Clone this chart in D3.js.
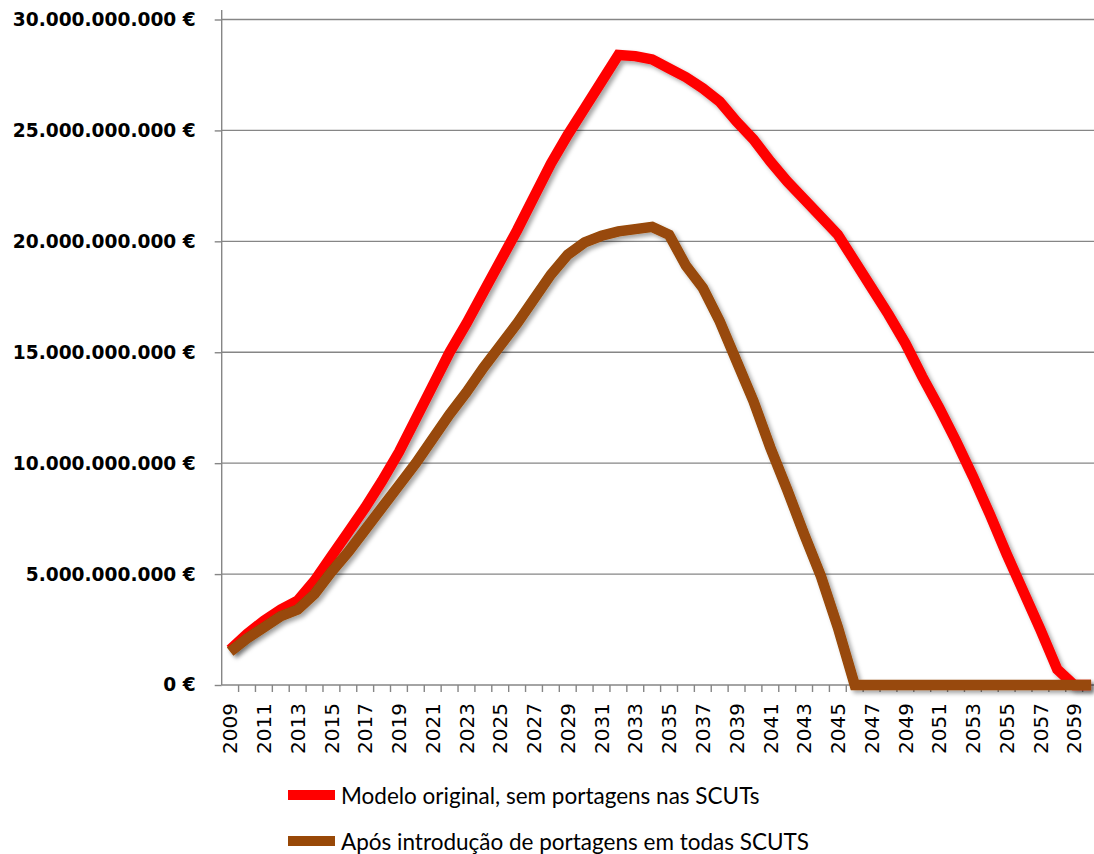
<!DOCTYPE html>
<html><head><meta charset="utf-8">
<script src="https://cdn.jsdelivr.net/npm/d3@7"></script>
<style>body{margin:0;background:#fff}svg{display:block}</style>
</head><body>
<svg id="chart" width="1094" height="854"></svg>
<script>
// Categories (years)
const years = [2009,2010,2011,2012,2013,2014,2015,2016,2017,2018,2019,2020,2021,2022,2023,2024,2025,2026,2027,2028,2029,2030,2031,2032,2033,2034,2035,2036,2037,2038,2039,2040,2041,2042,2043,2044,2045,2046,2047,2048,2049,2050,2051,2052,2053,2054,2055,2056,2057,2058,2059,2060];
// Tick labels shown on the x axis
const xTickLabels = [2009,2011,2013,2015,2017,2019,2021,2023,2025,2027,2029,2031,2033,2035,2037,2039,2041,2043,2045,2047,2049,2051,2053,2055,2057,2059];
// Y tick values (billions of euros)
const yTickValues = [0,5,10,15,20,25,30];
const seriesNames = ["Modelo original, sem portagens nas SCUTs","Após introdução de portagens em todas SCUTS"];
// Values in billions of euros
const valuesOriginal = [1.6,2.3,2.9,3.4,3.8,4.7,5.8,6.9,8.0,9.2,10.5,12.0,13.5,15.0,16.3,17.7,19.1,20.5,22.0,23.5,24.8,26.0,27.2,28.4,28.35,28.2,27.8,27.4,26.9,26.3,25.4,24.6,23.6,22.7,21.9,21.1,20.3,19.1,17.9,16.7,15.4,13.9,12.5,11.0,9.4,7.7,5.9,4.2,2.5,0.7,0,0];
const valuesPortagens = [1.5,2.1,2.6,3.1,3.4,4.1,5.1,6.0,7.0,8.0,9.0,10.0,11.1,12.2,13.2,14.3,15.3,16.3,17.4,18.5,19.4,19.95,20.25,20.45,20.55,20.65,20.3,18.9,17.9,16.4,14.6,12.8,10.7,8.8,6.8,4.9,2.6,0,0,0,0,0,0,0,0,0,0,0,0,0,0,0];
const colors = ["#ff0000","#984807"];

const svg = d3.select("#chart");
const W = 1094, H = 854;
const mLeft = 221.7, mRight = 1099.5, mTop = 19.5, mBottom = 685;

const x = d3.scaleBand().domain(years).range([mLeft, mRight]).padding(0);
const xc = d => x(d) + x.bandwidth()/2;
const y = d3.scaleLinear().domain([0,30]).range([mBottom, mTop]);

const loc = d3.formatLocale({decimal:",", thousands:".", grouping:[3], currency:["",""]});
const fmt = loc.format(",.0f");

svg.append("rect").attr("width",W).attr("height",H).attr("fill","#fff");

const defs = svg.append("defs");
const f = defs.append("filter").attr("id","sh").attr("x","-5%").attr("y","-5%").attr("width","115%").attr("height","115%");
f.append("feDropShadow").attr("dx",3).attr("dy",3).attr("stdDeviation",2).attr("flood-color","#000").attr("flood-opacity",0.35);

const gridCol = "#868686";
// Gridlines
svg.append("g").selectAll("line").data(yTickValues.filter(v=>v>0)).join("line")
  .attr("x1",mLeft).attr("x2",W+10).attr("y1",d=>y(d)).attr("y2",d=>y(d))
  .attr("stroke",gridCol).attr("stroke-width",1.4);

// Y axis
const yAxis = d3.axisLeft(y).tickValues(yTickValues).tickSize(7).tickFormat(d => fmt(d*1e9) + " €");
const gy = svg.append("g").attr("transform",`translate(${mLeft},0)`).call(yAxis);
gy.select(".domain").remove();
gy.selectAll(".tick line").attr("stroke",gridCol).attr("stroke-width",1.4);
gy.selectAll(".tick text").attr("x",-26).attr("fill","#000")
  .style("font-family","'DejaVu Sans'").style("font-weight","bold").style("font-size","18.6px");
svg.append("line").attr("x1",mLeft).attr("x2",mLeft).attr("y1",10).attr("y2",mBottom)
  .attr("stroke",gridCol).attr("stroke-width",1.4);

// X axis
const xAxis = d3.axisBottom(x).tickSize(0).tickFormat(d => xTickLabels.includes(d) ? d : "");
const gx = svg.append("g").attr("transform",`translate(0,${mBottom})`).call(xAxis);
gx.select(".domain").remove();
gx.selectAll(".tick text")
  .attr("transform","rotate(-90)").attr("text-anchor","end").attr("x",-18).attr("y",0).attr("dy","0.36em")
  .attr("fill","#000").style("font-family","'DejaVu Sans'").style("font-size","20px");
// boundary ticks
svg.append("g").selectAll("line").data(years).join("line")
  .attr("x1",d=>x(d)+x.bandwidth()).attr("x2",d=>x(d)+x.bandwidth())
  .attr("y1",mBottom).attr("y2",mBottom+7).attr("stroke",gridCol).attr("stroke-width",1.4);
svg.append("line").attr("x1",mLeft).attr("x2",W+10).attr("y1",mBottom).attr("y2",mBottom)
  .attr("stroke",gridCol).attr("stroke-width",1.4);

// Lines
const line = d3.line().x(d=>xc(d[0])).y(d=>y(d[1]));
[valuesOriginal, valuesPortagens].forEach((vals,i) => {
  svg.append("path").datum(years.map((yr,j)=>[yr, vals[j]]))
    .attr("d",line).attr("fill","none").attr("stroke",colors[i]).attr("stroke-width",10.5)
    .attr("stroke-linejoin","miter").attr("stroke-miterlimit",2).attr("stroke-linecap","butt")
    .attr("filter","url(#sh)");
});

// Legend
const lg = svg.append("g");
seriesNames.forEach((name,i) => {
  const cy = 795 + i*46;
  lg.append("line").attr("x1",288).attr("x2",335).attr("y1",cy).attr("y2",cy)
    .attr("stroke",colors[i]).attr("stroke-width",10);
  lg.append("text").attr("x",341).attr("y",cy+8.5).text(name)
    .attr("fill","#000").style("font-family","Lato").style("font-size","22.5px");
});
</script>
</body></html>
